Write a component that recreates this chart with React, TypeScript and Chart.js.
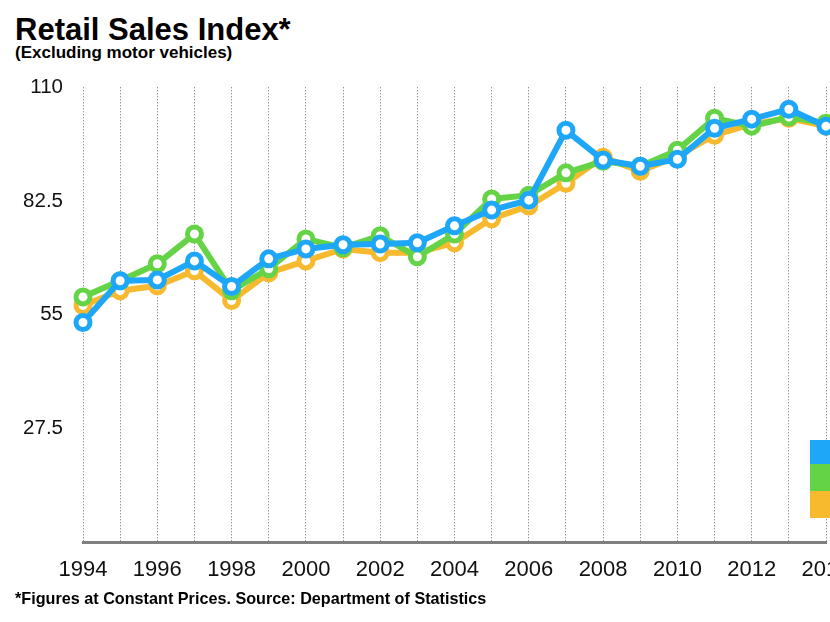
import React, { useEffect, useRef } from "react";
import { Chart, registerables } from "chart.js";

Chart.register(...registerables);

const years = [
  "1994", "1995", "1996", "1997", "1998", "1999", "2000", "2001", "2002", "2003", "2004",
  "2005", "2006", "2007", "2008", "2009", "2010", "2011", "2012", "2013", "2014",
];

const blueValues = [
  53.1, 63.2, 63.4, 68.0, 61.8, 68.5, 70.9, 71.9, 72.1, 72.4, 76.5,
  80.3, 82.7, 99.6, 92.4, 90.9, 92.6, 100.1, 102.3, 104.7, 100.6,
];
const greenValues = [
  59.3, 63.2, 67.3, 74.5, 60.8, 66.1, 73.3, 71.2, 74.1, 69.0, 74.5,
  83.0, 83.9, 89.3, 92.1, 90.9, 94.8, 102.5, 100.6, 102.8, 101.3,
];
const orangeValues = [
  57.2, 60.8, 62.0, 65.6, 58.4, 65.1, 68.0, 70.9, 70.0, 70.0, 72.4,
  78.2, 81.3, 86.8, 93.1, 89.7, 93.4, 98.4, 101.1, 102.5, 100.6,
];

const seriesLabels = ["Series 1", "Series 2", "Series 3"];
const seriesColors = ["#1EA6F9", "#64D446", "#F7B92E"];
const yTicks = [0, 27.5, 55, 82.5, 110];

const FONT = "'Liberation Sans', Arial, Helvetica, sans-serif";

export default function App() {
  const canvasRef = useRef<HTMLCanvasElement>(null);

  useEffect(() => {
    const canvas = canvasRef.current;
    if (!canvas) return;
    const allSeries = [blueValues, greenValues, orangeValues];
    const chart = new Chart(canvas, {
      type: "line",
      data: {
        labels: years,
        datasets: allSeries.map((vals, i) => ({
          label: seriesLabels[i],
          data: vals,
          borderColor: seriesColors[i],
          backgroundColor: seriesColors[i],
          borderWidth: 6,
          pointRadius: 7,
          pointBorderWidth: 5,
          pointBackgroundColor: "#ffffff",
          pointBorderColor: seriesColors[i],
          tension: 0,
          clip: false as any,
        })),
      },
      options: {
        animation: false,
        responsive: false,
        devicePixelRatio: 1,
        layout: { padding: { top: 21, right: 54, left: 0, bottom: 0 } },
        plugins: {
          legend: { display: false },
          title: { display: false },
          tooltip: { enabled: false },
        },
        scales: {
          x: {
            grid: { display: true, color: "#666666", lineWidth: 1, drawTicks: false },
            border: { display: true, color: "#808080", width: 3, dash: [1, 2] },
            ticks: {
              autoSkip: false,
              maxRotation: 0,
              padding: 15,
              color: "#111111",
              font: { family: FONT, size: 22 },
              callback: (_v: any, idx: number) => (idx % 2 === 0 ? years[idx] : ""),
            },
            afterFit: (scale: any) => {
              scale.height = 53;
            },
          },
          y: {
            min: 0,
            max: 110,
            afterBuildTicks: (scale: any) => {
              scale.ticks = yTicks.map((v) => ({ value: v }));
            },
            grid: { display: false, drawTicks: false },
            border: { display: false },
            ticks: {
              padding: 20,
              color: "#111111",
              font: { family: FONT, size: 20.5 },
              callback: (v: any) => (v === 0 ? "" : String(v)),
            },
            afterFit: (scale: any) => {
              scale.width = 83;
            },
          },
        },
      },
    });
    return () => chart.destroy();
  }, []);

  return (
    <div
      style={{
        position: "absolute",
        left: 0,
        top: 0,
        width: 830,
        height: 622,
        overflow: "hidden",
        background: "#ffffff",
        fontFamily: FONT,
        color: "#000",
      }}
    >
      <div
        style={{
          position: "absolute",
          left: 15,
          top: 14,
          fontSize: 31,
          lineHeight: "31px",
          fontWeight: "bold",
          whiteSpace: "nowrap",
        }}
      >
        Retail Sales Index*
      </div>
      <div
        style={{
          position: "absolute",
          left: 15,
          top: 44,
          fontSize: 17,
          lineHeight: "17px",
          fontWeight: "bold",
          whiteSpace: "nowrap",
        }}
      >
        (Excluding motor vehicles)
      </div>
      <canvas
        ref={canvasRef}
        width={880}
        height={540}
        style={{ position: "absolute", left: 0, top: 55, width: 880, height: 540 }}
      />
      <div style={{ position: "absolute", left: 810, top: 440, width: 60 }}>
        {seriesColors.map((c, i) => (
          <div
            key={i}
            style={{ height: i === 0 ? 24 : 27, background: c }}
            title={seriesLabels[i]}
          />
        ))}
      </div>
      <div
        style={{
          position: "absolute",
          left: 15,
          top: 590,
          fontSize: 16.2,
          lineHeight: "16px",
          fontWeight: "bold",
          whiteSpace: "nowrap",
        }}
      >
        *Figures at Constant Prices. Source: Department of Statistics
      </div>
    </div>
  );
}
